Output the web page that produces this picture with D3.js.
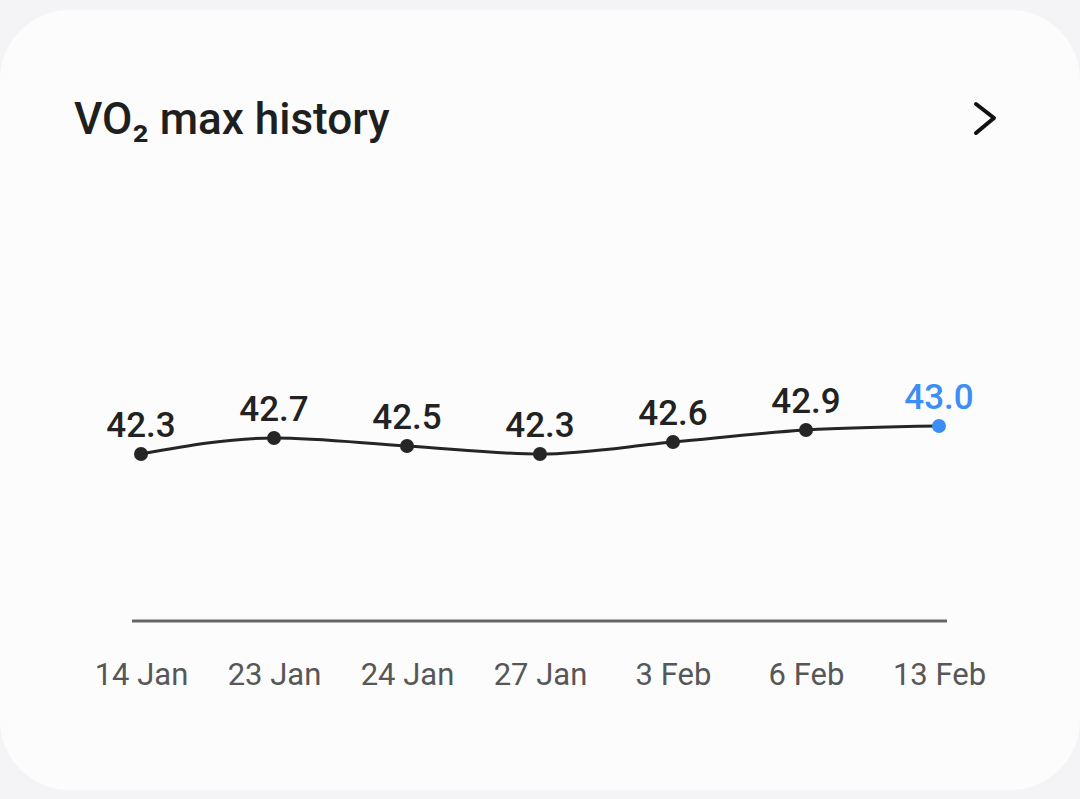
<!DOCTYPE html>
<html><head><meta charset="utf-8">
<script src="https://cdn.jsdelivr.net/npm/d3@7"></script>
<style>
html,body{margin:0;padding:0;background:#f4f4f6;}
svg{display:block;}
</style></head>
<body>
<svg id="chart" width="1080" height="799"></svg>
<script>
const categories = ["14 Jan","23 Jan","24 Jan","27 Jan","3 Feb","6 Feb","13 Feb"];
const values = [42.3, 42.7, 42.5, 42.3, 42.6, 42.9, 43.0];
const titleText = "VO₂ max history";

const svg = d3.select("#chart");
const W = 1080, H = 799;
const font = "Roboto, 'Noto Sans', sans-serif";

// card
svg.append("rect").attr("x",0).attr("y",10).attr("width",W).attr("height",780)
  .attr("rx",70).attr("ry",70).attr("fill","#fcfcfc");

svg.append("text").attr("x",74).attr("y",134).text(titleText)
  .attr("font-family",font).attr("font-size",44).attr("font-weight",500).attr("fill","#1f1f1f");

// chevron
svg.append("path").attr("d","M976,104 L994,118 L976,133")
  .attr("fill","none").attr("stroke","#111").attr("stroke-width",4)
  .attr("stroke-linecap","round").attr("stroke-linejoin","round");

const x = d3.scalePoint().domain(categories).range([141,939]);
const y = d3.scaleLinear().domain([41.5,43.5]).range([486,406]);

const data = categories.map((c,i)=>({c, v: values[i], last: i===categories.length-1}));

// baseline axis
const axisG = svg.append("g").attr("transform","translate(0,621)");
const xAxis = d3.axisBottom(x).tickSize(0).tickPadding(54);
axisG.call(xAxis);
axisG.select(".domain").attr("d","M132,0H947").attr("stroke","#666").attr("stroke-width",3);
axisG.selectAll("text").attr("font-family",font).attr("font-size",31).attr("fill","#575757").attr("dy",0);
axisG.selectAll(".tick text").attr("y",64);

const line = d3.line().x(d=>x(d.c)).y(d=>y(d.v)).curve(d3.curveMonotoneX);
svg.append("path").datum(data).attr("d",line).attr("fill","none")
  .attr("stroke","#252525").attr("stroke-width",3);

svg.selectAll("circle.pt").data(data).join("circle").attr("class","pt")
  .attr("cx",d=>x(d.c)).attr("cy",d=>y(d.v)).attr("r",7)
  .attr("fill",d=>d.last?"#3b8ef5":"#252525");

svg.selectAll("text.lbl").data(data).join("text").attr("class","lbl")
  .attr("x",d=>x(d.c)).attr("y",d=>y(d.v)-17)
  .attr("text-anchor","middle").attr("font-family",font).attr("font-size",35)
  .attr("font-weight",500)
  .attr("fill",d=>d.last?"#3b8ef5":"#222")
  .text(d=>d.v.toFixed(1));
</script>
</body></html>
